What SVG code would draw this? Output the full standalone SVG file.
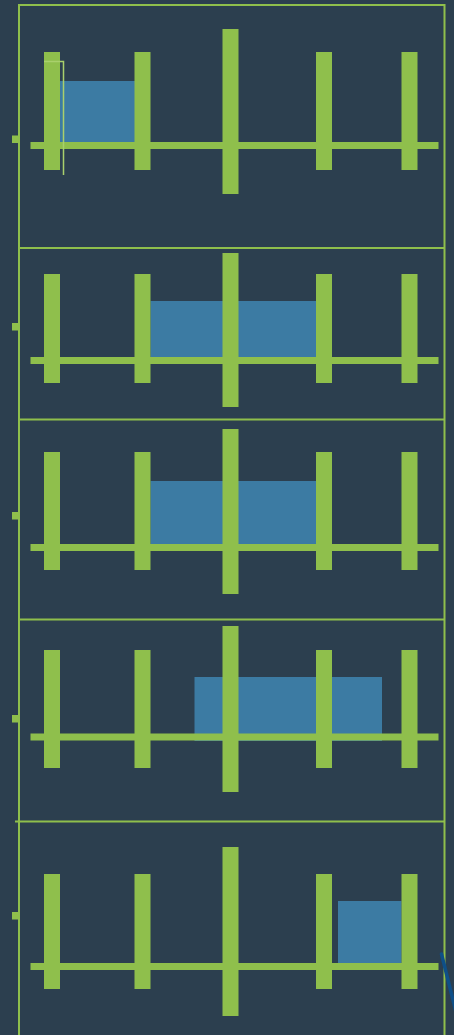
<svg xmlns="http://www.w3.org/2000/svg" width="454" height="1035" viewBox="0 0 454 1035">
  <style>
    .g { fill: #8fbf4c; }
    .b { fill: #3c7ba3; }
    .ln { stroke: #8fbf4c; stroke-width: 2; fill: none; }
  </style>
  <defs>
    <g id="scale">
      <rect class="g" x="30.5" y="0" width="408" height="7"/>
    </g>
  </defs>
  <rect x="0" y="0" width="454" height="1035" fill="#2c3f4f"/>

  <g id="frame">
    <path class="ln" d="M19 1035 V5 H444.5 V1035"/>
    <line class="ln" x1="19" y1="248" x2="444.5" y2="248"/>
    <line class="ln" x1="19" y1="419.5" x2="444.5" y2="419.5"/>
    <line class="ln" x1="19" y1="619.5" x2="444.5" y2="619.5"/>
    <line class="ln" x1="15" y1="821.5" x2="444.5" y2="821.5"/>
  </g>

  <g id="panel1">
    <rect class="b" x="60" y="81" width="75" height="61"/>
    <rect class="g" x="12" y="135.5" width="6.5" height="7.5"/>
    <rect class="g" x="30.5" y="142" width="408" height="7"/>
    <rect class="g" x="44" y="52" width="16" height="118"/>
    <rect class="g" x="134.5" y="52" width="16" height="118"/>
    <rect class="g" x="222.5" y="29" width="16" height="165"/>
    <rect class="g" x="316" y="52" width="16" height="118"/>
    <rect class="g" x="401.5" y="52" width="16" height="118"/>
    <path d="M44 61.5 H63.5 V175" stroke="#a9d06c" stroke-width="1.5" fill="none"/>
  </g>

  <g id="panel2">
    <rect class="b" x="150.5" y="301" width="165.5" height="56"/>
    <rect class="g" x="12" y="323" width="6.5" height="7.5"/>
    <rect class="g" x="30.5" y="357" width="408" height="7"/>
    <rect class="g" x="44" y="274" width="16" height="109"/>
    <rect class="g" x="134.5" y="274" width="16" height="109"/>
    <rect class="g" x="222.5" y="253" width="16" height="154"/>
    <rect class="g" x="316" y="274" width="16" height="109"/>
    <rect class="g" x="401.5" y="274" width="16" height="109"/>
  </g>

  <g id="panel3">
    <rect class="b" x="150.5" y="481" width="165.5" height="63"/>
    <rect class="g" x="12" y="512" width="6.5" height="7.5"/>
    <rect class="g" x="30.5" y="544" width="408" height="7"/>
    <rect class="g" x="44" y="452" width="16" height="118"/>
    <rect class="g" x="134.5" y="452" width="16" height="118"/>
    <rect class="g" x="222.5" y="429" width="16" height="165"/>
    <rect class="g" x="316" y="452" width="16" height="118"/>
    <rect class="g" x="401.5" y="452" width="16" height="118"/>
  </g>

  <g id="panel4">
    <rect class="b" x="194.5" y="677" width="187.5" height="64"/>
    <rect class="g" x="12" y="715" width="6.5" height="7.5"/>
    <rect class="g" x="30.5" y="733.5" width="408" height="7"/>
    <rect class="g" x="44" y="650" width="16" height="118"/>
    <rect class="g" x="134.5" y="650" width="16" height="118"/>
    <rect class="g" x="222.5" y="626" width="16" height="166"/>
    <rect class="g" x="316" y="650" width="16" height="118"/>
    <rect class="g" x="401.5" y="650" width="16" height="118"/>
  </g>

  <g id="panel5">
    <rect class="b" x="338" y="901" width="63.5" height="62"/>
    <rect class="g" x="12" y="912" width="6.5" height="7.5"/>
    <rect class="g" x="30.5" y="963" width="408" height="7"/>
    <rect class="g" x="44" y="874" width="16" height="115"/>
    <rect class="g" x="134.5" y="874" width="16" height="115"/>
    <rect class="g" x="222.5" y="847" width="16" height="169"/>
    <rect class="g" x="316" y="874" width="16" height="115"/>
    <rect class="g" x="401.5" y="874" width="16" height="115"/>
  </g>

  <g id="connectors">
    <path d="M441.5 954 L456 1012" stroke="#0e4f88" stroke-width="3.5" stroke-linecap="round" fill="none"/>
  </g>
</svg>
